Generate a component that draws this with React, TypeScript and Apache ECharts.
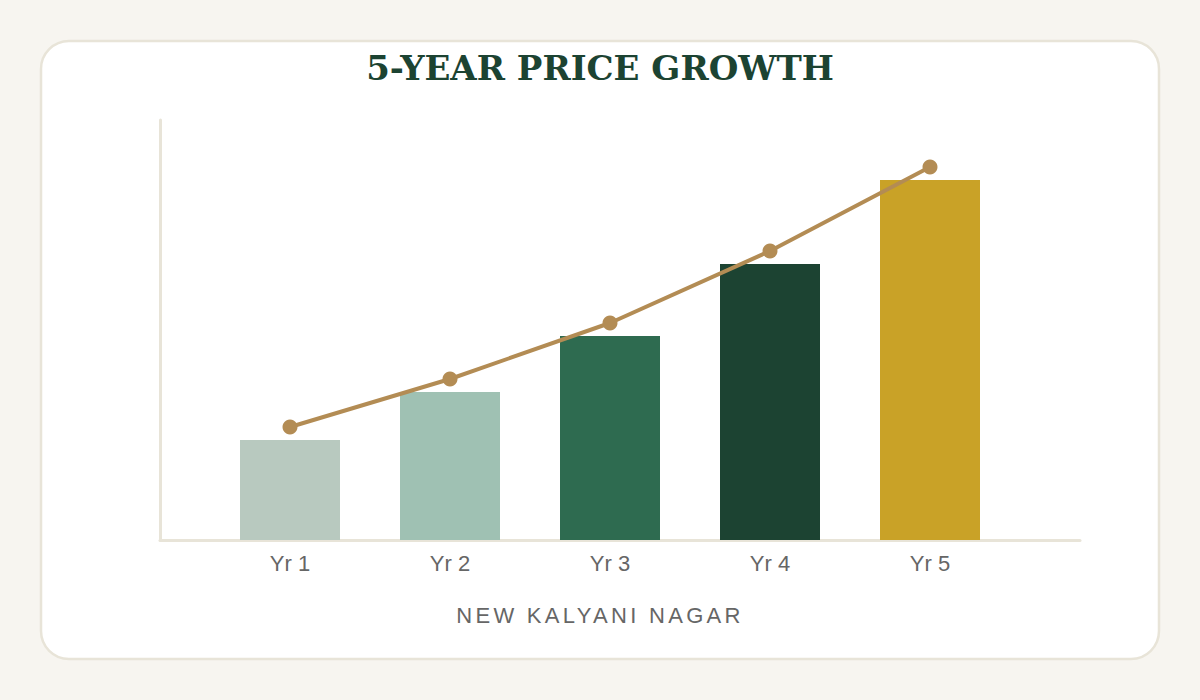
import * as echarts from 'echarts';
import React, { useEffect, useRef } from 'react';

const years = ['Yr 1', 'Yr 2', 'Yr 3', 'Yr 4', 'Yr 5'];
const barValues = [100, 148, 204, 276, 360];
const trendValues = [113, 161, 217, 289, 373];
const barColors = ['#b8c9bf', '#9fc1b3', '#2e6b50', '#1c4332', '#c9a227'];

const App: React.FC = () => {
  const chartRef = useRef<HTMLDivElement>(null);

  useEffect(() => {
    document.body.style.margin = '0';
    const myChart = echarts.init(chartRef.current!, undefined, { renderer: 'svg' });

    const axisColor = '#e8e4d8';

    const option = {
      animation: false,
      backgroundColor: '#f7f5f0',
      title: {
        text: '5-YEAR PRICE GROWTH',
        left: 'center',
        top: 46,
        textStyle: {
          fontFamily: 'DejaVu Serif',
          fontWeight: 'bold',
          fontSize: 34,
          color: '#1c4332',
        },
      },
      graphic: [
        {
          type: 'rect',
          z: -10,
          shape: { x: 41, y: 41, width: 1118, height: 618, r: 28 },
          style: { fill: '#ffffff', stroke: axisColor, lineWidth: 2.5 },
        },
        {
          type: 'text',
          x: 600,
          y: 615,
          style: {
            text: 'NEW KALYANI NAGAR',
            fontFamily: 'Liberation Sans',
            fontSize: 22,
            fill: '#666666',
            align: 'center',
            verticalAlign: 'middle',
          },
        },
      ],
      grid: [
        { left: 210, right: 190, top: 120, bottom: 160 },
        { left: 160, right: 120, top: 120, bottom: 160 },
      ],
      xAxis: [
        {
          type: 'category',
          gridIndex: 0,
          data: years,
          axisLine: { show: false },
          axisTick: { show: false },
          axisLabel: {
            margin: 12,
            fontFamily: 'Liberation Sans',
            fontSize: 22,
            color: '#666666',
          },
        },
        {
          type: 'value',
          gridIndex: 1,
          min: 0,
          max: 1,
          axisLine: { show: true, lineStyle: { color: axisColor, width: 3 } },
          axisTick: { show: false },
          axisLabel: { show: false },
          splitLine: { show: false },
        },
      ],
      yAxis: [
        {
          type: 'value',
          gridIndex: 0,
          min: 0,
          max: 420,
          show: false,
        },
        {
          type: 'value',
          gridIndex: 1,
          min: 0,
          max: 1,
          axisLine: { show: true, lineStyle: { color: axisColor, width: 3 } },
          axisTick: { show: false },
          axisLabel: { show: false },
          splitLine: { show: false },
        },
      ],
      series: [
        {
          type: 'bar',
          data: barValues.map((v, i) => ({ value: v, itemStyle: { color: barColors[i] } })),
          barWidth: 100,
        },
        {
          type: 'line',
          data: trendValues,
          symbol: 'circle',
          symbolSize: 15,
          lineStyle: { color: '#b38c54', width: 4 },
          itemStyle: { color: '#b38c54' },
          z: 3,
        },
      ],
    };

    myChart.setOption(option);

    // echarts text has no letter-spacing, so set it on the svg node
    const spaceOut = () => {
      chartRef.current?.querySelectorAll('text').forEach((t) => {
        if (t.textContent === 'NEW KALYANI NAGAR') {
          t.setAttribute('letter-spacing', '3.3');
        }
      });
    };
    myChart.on('finished', spaceOut);
    spaceOut();

    return () => {
      myChart.dispose();
    };
  }, []);

  return <div ref={chartRef} style={{ width: '1200px', height: '700px' }} />;
};

export default App;
